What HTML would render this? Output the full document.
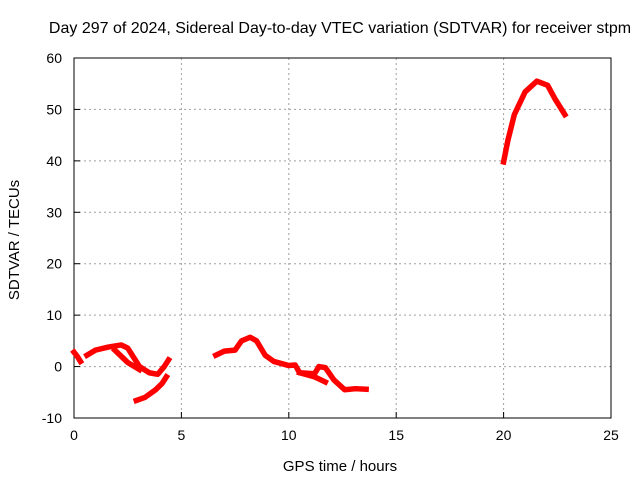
<!DOCTYPE html>
<html><head><meta charset="utf-8"><style>
body{margin:0;background:#fff;font-family:"Liberation Sans",sans-serif;}
svg text{font-family:"Liberation Sans",sans-serif;font-size:14px;fill:#000;}
</style></head><body>
<svg id="c" width="640" height="480"></svg>
<script>
const xTicks=[0,5,10,15,20,25];
const yTicks=[-10,0,10,20,30,40,50,60];
const segA_t=[0.0,0.15,0.3];
const segA_v=[2.8,2.0,1.0];
const segB_t=[0.6,1.0,1.6,2.2,2.5,3.05,3.5,3.9,4.2,4.4];
const segB_v=[2.2,3.2,3.8,4.2,3.6,0.0,-1.2,-1.5,0.0,1.3];
const segB2_t=[1.9,2.5,3.05];
const segB2_v=[3.2,0.8,-0.6];
const segC_t=[2.9,3.3,3.8,4.1,4.3];
const segC_v=[-6.6,-6.0,-4.5,-3.3,-2.0];
const segD_t=[6.6,7.0,7.5,7.8,8.2,8.5,8.9,9.3,10.0,10.3,10.5,11.2,11.4,11.7,12.1,12.6,13.1,13.6];
const segD_v=[2.2,3.0,3.2,5.0,5.7,5.0,2.2,1.0,0.2,0.3,-1.2,-1.4,0.0,-0.2,-2.6,-4.5,-4.3,-4.4];
const segD2_t=[10.5,11.2,11.7];
const segD2_v=[-1.2,-2.0,-3.0];
const segE_t=[20.0,20.2,20.5,21.0,21.55,22.05,22.4,22.85];
const segE_v=[39.8,44.0,49.0,53.4,55.5,54.7,52.0,49.0];
const series=[[segA_t,segA_v],[segB_t,segB_v],[segB2_t,segB2_v],[segC_t,segC_v],[segD_t,segD_v],[segD2_t,segD2_v],[segE_t,segE_v]];
const L=74,R=611,T=58,B=418;
const X=t=>L+(t-0)/25*(R-L);
const Y=v=>B-(v+10)/70*(B-T);
const svg=document.getElementById('c');
const NS='http://www.w3.org/2000/svg';
function mk(tag,a){const e=document.createElementNS(NS,tag);for(const k in a)e.setAttribute(k,a[k]);svg.appendChild(e);return e;}
xTicks.forEach(t=>{
 if(t>0&&t<25){const g=mk('line',{x1:X(t),x2:X(t),y1:T,y2:B,stroke:'#a0a0a0','stroke-dasharray':'2,3'});
 
 }
 const tk=mk('line',{x1:X(t),x2:X(t),y1:B,y2:B-6,stroke:'#000'});
 
 
 const lb=mk('text',{x:X(t),y:B+22,'text-anchor':'middle'});lb.textContent=t;
 
 
});
yTicks.forEach(v=>{
 if(v>-10&&v<60){const g=mk('line',{x1:L,x2:R,y1:Y(v),y2:Y(v),stroke:'#a0a0a0','stroke-dasharray':'2,3'});
 
 }
 const tk=mk('line',{x1:L,x2:L+6,y1:Y(v),y2:Y(v),stroke:'#000'});
 
 
 const lb=mk('text',{x:L-12,y:Y(v)+5,'text-anchor':'end'});lb.textContent=v;
 
 
});
const fr=mk('rect',{x:L,y:T,width:R-L,height:B-T,fill:'none',stroke:'#000'});


series.forEach(([ts,vs])=>{
 const p=mk('polyline',{points:ts.map((t,i)=>X(t)+','+Y(vs[i])).join(' '),fill:'none',stroke:'#ff0000','stroke-width':5.5,'stroke-linejoin':'round','stroke-linecap':'square'});
 
 
});
const ti=mk('text',{x:340,y:33,'text-anchor':'middle','font-size':'16px',style:'font-size:16px'});ti.textContent='Day 297 of 2024, Sidereal Day-to-day VTEC variation (SDTVAR) for receiver stpm';


const xt=mk('text',{x:340,y:471,'text-anchor':'middle',style:'font-size:15px'});xt.textContent='GPS time / hours';


const yt=mk('text',{x:19,y:240,'text-anchor':'middle',transform:'rotate(-90 19 240)',style:'font-size:15px'});yt.textContent='SDTVAR / TECUs';


</script>
</body></html>
